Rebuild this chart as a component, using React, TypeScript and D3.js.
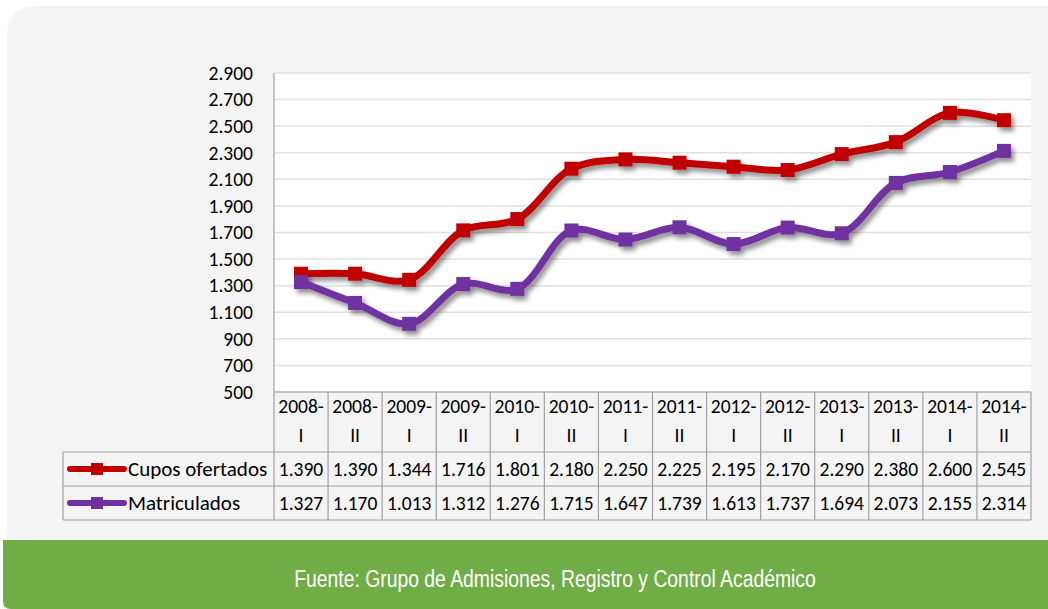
import React from "react";
import * as d3 from "d3";

const periods = ["2008-|I","2008-|II","2009-|I","2009-|II","2010-|I","2010-|II","2011-|I","2011-|II","2012-|I","2012-|II","2013-|I","2013-|II","2014-|I","2014-|II"];
const cupos = [1390,1390,1344,1716,1801,2180,2250,2225,2195,2170,2290,2380,2600,2545];
const matriculados = [1327,1170,1013,1312,1276,1715,1647,1739,1613,1737,1694,2073,2155,2314];
const yTicks = [500,700,900,1100,1300,1500,1700,1900,2100,2300,2500,2700,2900];
const seriesNames = ["Cupos ofertados","Matriculados"];
const seriesColors = ["#C00000","#7030A0"];
const source = "Fuente: Grupo de Admisiones, Registro y Control Académico";

const W = 1048, H = 609;
const left = 274, right = 1031, top = 73, bottom = 392;
const headerBottom = 452, row1Bottom = 486, row2Bottom = 520, legendLeft = 63;
const font = "Carlito, Calibri, Lato, 'Open Sans', sans-serif";
const fmt = (v: number) => d3.format(",")(v).replace(/,/g, ".");

export default function App() {
  const x = d3.scaleBand<string>().domain(periods).range([left, right]);
  const y = d3.scaleLinear().domain([500, 2900]).range([bottom, top]);
  const cx = (i: number) => (x(periods[i]) as number) + x.bandwidth() / 2;
  const line = d3.line<number>().x((_, i) => cx(i)).y(v => y(v)).curve(d3.curveCatmullRom.alpha(0.5));
  const series = [cupos, matriculados];
  const rowTops = [headerBottom, row1Bottom];
  const rowBottoms = [row1Bottom, row2Bottom];
  const fmtf = (v: number) => v >= 1000 ? fmt(v) : String(v);
  const fs = 19.5;
  return (
    <svg width={W} height={H} style={{ position: "fixed", left: 0, top: 0 }} fontFamily={font}>
      <defs>
        <filter id="sh" x="-10%" y="-10%" width="120%" height="140%">
          <feGaussianBlur in="SourceAlpha" stdDeviation="2.5" />
          <feOffset dx="3" dy="4" result="b" />
          <feComponentTransfer><feFuncA type="linear" slope="0.45" /></feComponentTransfer>
          <feMerge><feMergeNode /><feMergeNode in="SourceGraphic" /></feMerge>
        </filter>
      </defs>
      <rect width={W} height={H} fill="#ffffff" />
      <path d={`M7,${H} V36 Q7,6 37,6 H${W} V${H} Z`} fill="#f4f4f4" />
      <rect x={left} y={top} width={right - left} height={bottom - top} fill="#ffffff" />
      {yTicks.map(t => (
        <g key={t}>
          <line x1={left} x2={right} y1={y(t)} y2={y(t)} stroke="#e0e0e0" strokeWidth={1.5} />
          <text x={253} y={y(t)} dy="0.35em" textAnchor="end" fontSize={fs} fill="#000">{fmtf(t)}</text>
        </g>
      ))}
      <line x1={left} x2={left} y1={top} y2={bottom} stroke="#a0a0a0" strokeWidth={1.2} />
      <g stroke="#a0a0a0" strokeWidth={1.2} fill="none">
        <line x1={left} x2={right} y1={bottom} y2={bottom} />
        <line x1={legendLeft} x2={right} y1={headerBottom} y2={headerBottom} />
        <line x1={legendLeft} x2={right} y1={row1Bottom} y2={row1Bottom} />
        <line x1={legendLeft} x2={right} y1={row2Bottom} y2={row2Bottom} />
        <line x1={legendLeft} x2={legendLeft} y1={headerBottom} y2={row2Bottom} />
        {periods.map(p => (
          <line key={p} x1={(x(p) as number)} x2={(x(p) as number)} y1={bottom} y2={row2Bottom} />
        ))}
        <line x1={right} x2={right} y1={bottom} y2={row2Bottom} />
      </g>
      {periods.map((p, i) => {
        const [a, b] = p.split("|");
        return (
          <g key={p} fontSize={fs} textAnchor="middle" fill="#000">
            <text x={cx(i)} y={413}>{a}</text>
            <text x={cx(i)} y={442}>{b}</text>
          </g>
        );
      })}
      {series.map((s, k) => (
        <g key={k}>
          {s.map((v, i) => (
            <text key={i} x={cx(i)} y={(rowTops[k] + rowBottoms[k]) / 2} dy="0.35em" textAnchor="middle" fontSize={fs} fill="#000">{fmtf(v)}</text>
          ))}
          <line x1={70} x2={124} y1={(rowTops[k] + rowBottoms[k]) / 2} y2={(rowTops[k] + rowBottoms[k]) / 2} stroke={seriesColors[k]} strokeWidth={6} strokeLinecap="round" />
          <rect x={91} y={(rowTops[k] + rowBottoms[k]) / 2 - 6} width={12} height={12} fill={seriesColors[k]} />
          <text x={128} y={(rowTops[k] + rowBottoms[k]) / 2} dy="0.35em" fontSize={21} fill="#000">{seriesNames[k]}</text>
        </g>
      ))}
      {series.map((s, k) => (
        <g key={"s" + k} filter="url(#sh)">
          <path d={line(s) as string} fill="none" stroke={seriesColors[k]} strokeWidth={7} strokeLinejoin="round" />
          {s.map((v, i) => (
            <rect key={i} x={cx(i) - 7} y={y(v) - 7} width={14} height={14} fill={seriesColors[k]} />
          ))}
        </g>
      ))}
      <path d={`M3,540 H${W} V${H} H11 Q3,${H} 3,${H - 8} Z`} fill="#70AD47" />
      <g transform="translate(555,579) scale(0.88,1.05)">
        <text x={0} y={0} dy="0.35em" textAnchor="middle" fontSize={22} fill="#ffffff" fontFamily="'Liberation Sans', Arial, sans-serif">{source}</text>
      </g>
    </svg>
  );
}
